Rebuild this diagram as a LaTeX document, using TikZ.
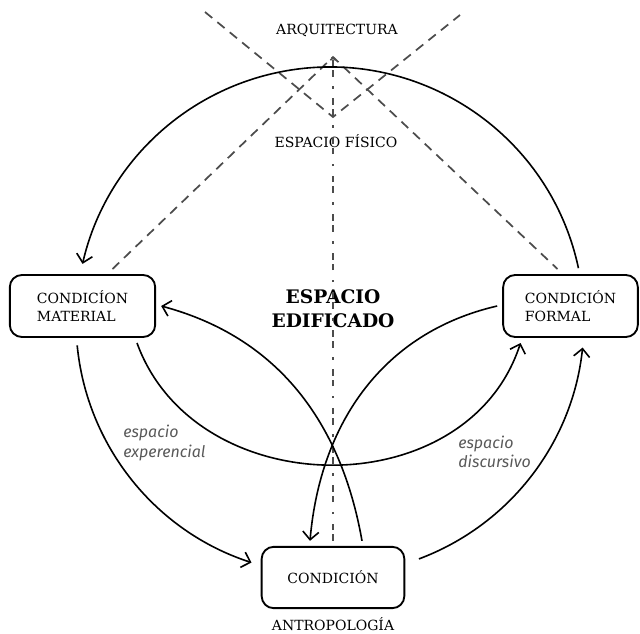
\documentclass[tikz,border=0pt]{standalone}
\usepackage{fontspec}
\setmainfont{DejaVu Serif}
\newfontfamily\labelfont{Fira Sans}
\usepackage{tikz}
\usetikzlibrary{calc,arrows.meta}

\tikzset{
  box/.style={draw,rounded corners=9pt,line width=1.4pt,minimum height=46.5pt,outer sep=4.5pt,align=left},
  link/.style={line width=1.2pt,-{Straight Barb[length=6pt,width=12pt]}},
  ray/.style={line width=1.3pt,black!70,dash pattern=on 7pt off 5pt},
  midline/.style={line width=1.3pt,black!70,dash pattern=on 5pt off 3pt on 5pt off 7pt on 2pt off 7pt,-{Straight Barb[length=1.5pt,width=4pt]}},
  lbl/.style={font=\labelfont\itshape\fontsize{12}{14.5}\selectfont,text=black!65,align=left,inner sep=0pt,anchor=west}
}

\begin{document}
\begin{tikzpicture}[x=0.75pt,y=0.75pt,font=\fontsize{10.5}{14}\selectfont]
\useasboundingbox (0,0) rectangle (640,-633);
\node[box,minimum width=109pt](mat)at(82.5,-306){CONDICÍON\\MATERIAL};
\node[box,minimum width=101pt](form)at(570.5,-306){CONDICIÓN\\FORMAL};
\node[box,minimum width=107pt,minimum height=46pt](cond)at(333,-577.5){CONDICIÓN};
\node[anchor=base](arq)at(337,-34){ARQUITECTURA};
\node[anchor=base](fis)at(336,-147){ESPACIO FÍSICO};
\node[anchor=base](antro)at(333,-630){ANTROPOLOGÍA};
\node[font=\bfseries\fontsize{14}{18}\selectfont,align=center](edif)at(333,-308.5){ESPACIO\\EDIFICADO};
\node[lbl](exper)at(123,-443){espacio\\experencial};
\node[lbl](disc)at(458,-452){espacio\\discursivo};

\coordinate (o) at (330,-321);
\coordinate (apex) at (333,-57);
\coordinate (vee) at (333,-117);
\coordinate (ra) at (205,-12);
\coordinate (rb) at (460,-15);

\draw[ray] (ra) -- (vee) -- (rb);
\draw[ray] ($(mat.north)+(30,0)$) -- (apex) -- ($(form.north)+(-13,0)$);
\draw[midline] (cond.north) -- (apex);

\draw[link] (o) ++(12:254) arc[start angle=12,end angle=167,radius=254];
\draw[link] (o) ++(185.5:254) arc[start angle=185.5,end angle=252,radius=254];
\draw[link] (o) ++(290.5:254) arc[start angle=290.5,end angle=354,radius=254];

\draw[link] ($(cond.north)+(29,0)$) to[out=100,in=-15] (mat.east);
\draw[link] (form.west) to[out=193,in=85] ($(cond.north)+(-23,0)$);
\draw[link] ($(mat.south)+(54.5,0)$) to[out=-70,in=-108,looseness=1.15] ($(form.south)+(-50,0)$);
\end{tikzpicture}
\end{document}
